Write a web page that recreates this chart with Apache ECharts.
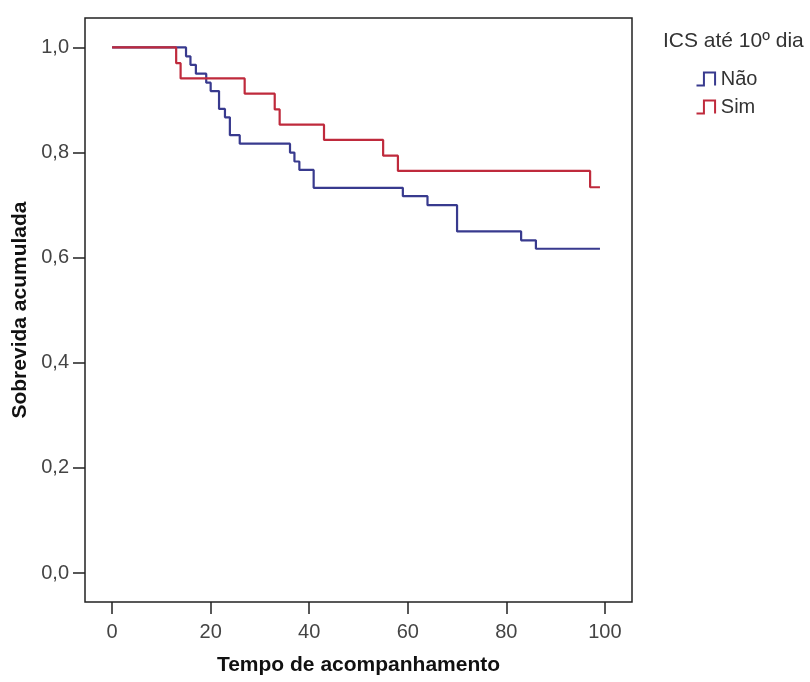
<!DOCTYPE html>
<html>
<head>
<meta charset="utf-8">
<script src="https://cdn.jsdelivr.net/npm/echarts@6/dist/echarts.min.js"></script>
<style>html,body{margin:0;padding:0;background:#fff;}#c{width:810px;height:682px;}</style>
</head>
<body>
<div id="c"></div>
<script>
// Kaplan-Meier step data
const naoTimes = [0, 15.0, 15.9, 17.0, 19.1, 20.0, 21.7, 22.9, 23.9, 25.9, 36.1, 37.0, 38.0, 40.9, 59.0, 64.0, 70.0, 83.0, 86.0, 99.0];
const naoSurv  = [1.0, 0.983, 0.967, 0.950, 0.933, 0.917, 0.883, 0.867, 0.833, 0.817, 0.800, 0.783, 0.767, 0.733, 0.717, 0.700, 0.650, 0.633, 0.617, 0.617];
const simTimes = [0, 13.0, 13.9, 26.9, 33.0, 34.0, 43.0, 55.0, 58.0, 97.0, 99.0];
const simSurv  = [1.0, 0.970, 0.941, 0.912, 0.882, 0.853, 0.824, 0.794, 0.765, 0.734, 0.734];
const xTicks = [0, 20, 40, 60, 80, 100];
const yTicks = [0, 0.2, 0.4, 0.6, 0.8, 1.0];
const groupNames = ['Não', 'Sim'];
const legendTitle = 'ICS até 10º dia';

const blue = '#383a8e';
const red = '#bf2a3c';
const stepIcon = 'path://M0,16 L8,16 L8,2 L20,2 L20,16';

const chart = echarts.init(document.getElementById('c'), null, {renderer: 'canvas'});
const font = 'Liberation Sans, Arial, sans-serif';
chart.setOption({
  animation: false,
  backgroundColor: '#fff',
  title: {
    text: legendTitle, left: 658, top: 26,
    textStyle: {fontFamily: font, fontSize: 21, fontWeight: 'normal', color: '#333'}
  },
  legend: {
    orient: 'vertical', left: 689, top: 64, itemWidth: 20, itemHeight: 13, itemGap: 8,
    textStyle: {fontFamily: font, fontSize: 20, color: '#333'},
    data: [
      {name: groupNames[0], icon: stepIcon, itemStyle: {color: 'none', borderColor: blue, borderWidth: 2}},
      {name: groupNames[1], icon: stepIcon, itemStyle: {color: 'none', borderColor: red, borderWidth: 2}}
    ]
  },
  grid: {left: 85, top: 18, right: 178, bottom: 80, show: true, borderColor: '#222', borderWidth: 1.5, backgroundColor: '#fff'},
  xAxis: {
    type: 'value', min: -5.5, max: 105.5,
    axisLine: {show: false, onZero: false},
    splitLine: {show: false},
    axisTick: {show: true, customValues: xTicks, length: 12, lineStyle: {color: '#222', width: 1.5}},
    axisLabel: {customValues: xTicks, fontFamily: font, fontSize: 20, color: '#444', margin: 20},
    name: 'Tempo de acompanhamento', nameLocation: 'middle', nameGap: 53,
    nameTextStyle: {fontFamily: font, fontSize: 21, fontWeight: 'bold', color: '#111'}
  },
  yAxis: {
    type: 'value', min: -0.055, max: 1.056,
    axisLine: {show: false, onZero: false},
    splitLine: {show: false},
    axisTick: {show: true, customValues: yTicks, length: 12, lineStyle: {color: '#222', width: 1.5}},
    axisLabel: {customValues: yTicks, fontFamily: font, fontSize: 20, color: '#444', margin: 16,
      formatter: v => v.toFixed(1).replace('.', ',')},
    name: 'Sobrevida acumulada', nameLocation: 'middle', nameGap: 51, nameRotate: 90,
    nameTextStyle: {fontFamily: font, fontSize: 21, fontWeight: 'bold', color: '#111'}
  },
  series: [
    {name: groupNames[0], type: 'line', step: 'end', symbol: 'none', color: blue,
     lineStyle: {color: blue, width: 2.2}, data: naoTimes.map((t, i) => [t, naoSurv[i]])},
    {name: groupNames[1], type: 'line', step: 'end', symbol: 'none', color: red,
     lineStyle: {color: red, width: 2.2}, data: simTimes.map((t, i) => [t, simSurv[i]])}
  ]
});
</script>
</body>
</html>
